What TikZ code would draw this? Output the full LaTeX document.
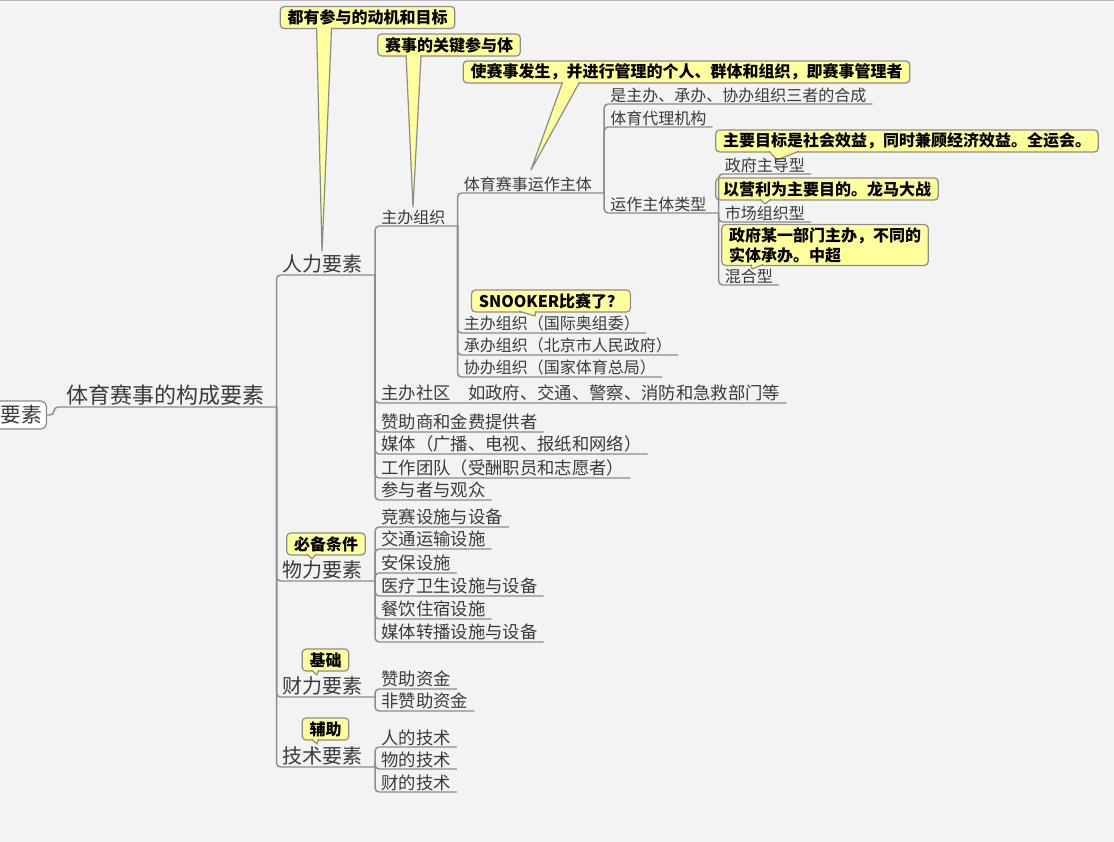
\documentclass[tikz,border=0pt]{standalone}
\usepackage{fontspec}
\setmainfont{Noto Sans CJK SC}
\usetikzlibrary{calc}

\definecolor{canvas}{HTML}{F3F3F3}
\definecolor{branchgray}{HTML}{8C8C8C}
\definecolor{topictext}{HTML}{3A3A3A}
\definecolor{noteyellow}{HTML}{FFFF9C}

% pointer of a callout: node, left and right offset of its base, tip
\newcommand{\noteptr}[4]{%
  \filldraw[notefill] ($(#1.south west)+(#2,-1.5)$) -- (#4) -- ($(#1.south west)+(#3,-1.5)$);}

\begin{document}
\begin{tikzpicture}[
    x=0.75pt, y=-0.75pt,
    topic/.style={anchor=south west, inner xsep=4.5pt, inner ysep=1pt, text=topictext, font=\fontsize{13}{15}\selectfont},
    hub/.style={topic, execute at end node={\hspace*{4.5pt}}},
    smalltopic/.style={font=\fontsize{12}{14}\selectfont},
    major/.style={font=\fontsize{15}{18}\selectfont},
    central/.style={font=\fontsize{16.5}{19}\selectfont},
    rootbox/.style={rectangle, rounded corners=4pt, draw=branchgray, line width=0.9pt, fill=white, anchor=east, text width=90pt, align=right, minimum height=21pt, inner xsep=3.5pt, text=topictext, font=\fontsize{15.5}{18}\selectfont},
    branch/.style={draw=branchgray, line width=1.1pt, rounded corners=3pt},
    note/.style={rectangle, rounded corners=3pt, draw=branchgray, line width=0.9pt, fill=noteyellow, inner xsep=5.5pt, inner ysep=2pt, minimum height=16.5pt, text=black, font=\bfseries\fontsize{12}{15}\selectfont},
    notefill/.style={fill=noteyellow, draw=branchgray, line width=0.9pt, line join=round}
]
    \useasboundingbox (0,0) rectangle (1114,842);
    \fill[canvas] (0,0) rectangle (1114,842);
    \draw[gray!55, line width=1pt] (0,0.7) -- (1114,0.7);

    % Callouts
    \node [note] (motive) at (367.5,17.5) {都有参与的动机和目标};
    \node [note] (keypart) at (449,45) {赛事的关键参与体};
    \node [note] (manager) at (686.5,72) {使赛事发生，并进行管理的个人、群体和组织，即赛事管理者};
    \node [note] (socialnote) at (907,141) {主要目标是社会效益，同时兼顾经济效益。全运会。};
    \node [note] (profitnote) at (827,189) {以营利为主要目的。龙马大战};
    \node [note, align=left] (mixnote) at (825,245) {政府某一部门主办，不同的\\实体承办。中超};
    \node [note] (snooker) at (551,301) {SNOOKER比赛了？};
    \node [note] (neednote) at (326,544) {必备条件};
    \node [note] (basenote) at (325.5,660) {基础};
    \node [note] (helpnote) at (325.5,729) {辅助};

    \coordinate (motivetip) at (322,251);
    \coordinate (keyparttip) at (413,207);
    \coordinate (managertip) at (531,170);
    \coordinate (socialtip) at (777,160);
    \coordinate (profittip) at (765,204);
    \coordinate (mixtip) at (752,269);
    \coordinate (snookertip) at (535,316);
    \coordinate (needtip) at (312,559);
    \coordinate (basetip) at (317,675);
    \coordinate (helptip) at (317,744);

    \noteptr{motive}{37}{52}{motivetip}
    \noteptr{keypart}{29}{44}{keyparttip}
    \noteptr{manager}{100}{117}{managertip}
    \noteptr{socialnote}{54}{84}{socialtip}
    \noteptr{profitnote}{45}{56}{profittip}
    \noteptr{mixnote}{30}{42}{mixtip}
    \noteptr{snooker}{48}{65}{snookertip}
    \noteptr{neednote}{21}{30}{needtip}
    \noteptr{basenote}{10}{17}{basetip}
    \noteptr{helpnote}{10}{17}{helptip}

    % Topics
    \node [rootbox] (root) at (47,415) {要素};
    \node [hub, central] (comp) at (60,407) {体育赛事的构成要素};

    \node [hub, major] (human) at (comp.south east |- 0,275) {人力要素};
    \node [hub, major] (material) at (comp.south east |- 0,581) {物力要素};
    \node [hub, major] (finance) at (comp.south east |- 0,697) {财力要素};
    \node [hub, major] (tech) at (comp.south east |- 0,767) {技术要素};

    \node [hub, smalltopic] (host) at (human.south east |- 0,226) {主办组织};
    \node [topic] (community) at (human.south east |- 0,403) {主办社区\hspace{1em}如政府、交通、警察、消防和急救部门等};
    \node [topic] (sponsor) at (human.south east |- 0,432) {赞助商和金费提供者};
    \node [topic] (media) at (human.south east |- 0,454) {媒体（广播、电视、报纸和网络）};
    \node [topic] (staff) at (human.south east |- 0,478) {工作团队（受酬职员和志愿者）};
    \node [topic] (audience) at (human.south east |- 0,500) {参与者与观众};

    \node [topic] (venue) at (material.south east |- 0,527) {竞赛设施与设备};
    \node [topic] (transport) at (material.south east |- 0,549) {交通运输设施};
    \node [topic] (security) at (material.south east |- 0,573) {安保设施};
    \node [topic] (medical) at (material.south east |- 0,596) {医疗卫生设施与设备};
    \node [topic] (catering) at (material.south east |- 0,619) {餐饮住宿设施};
    \node [topic] (broadcast) at (material.south east |- 0,642) {媒体转播设施与设备};

    \node [topic] (sponsorfund) at (finance.south east |- 0,689) {赞助资金};
    \node [topic] (otherfund) at (finance.south east |- 0,711) {非赞助资金};

    \node [topic] (peopletech) at (tech.south east |- 0,747) {人的技术};
    \node [topic] (objecttech) at (tech.south east |- 0,769) {物的技术};
    \node [topic] (moneytech) at (tech.south east |- 0,792) {财的技术};

    \node [hub, smalltopic] (operator) at (host.south east |- 0,193) {体育赛事运作主体};
    \node [topic, smalltopic] (ioc) at (host.south east |- 0,333) {主办组织（国际奥组委）};
    \node [topic, smalltopic] (beijing) at (host.south east |- 0,355) {承办组织（北京市人民政府）};
    \node [topic, smalltopic] (gsa) at (host.south east |- 0,377) {协办组织（国家体育总局）};

    \node [topic, smalltopic] (synth) at (operator.south east |- 0,104) {是主办、承办、协办组织三者的合成};
    \node [topic, smalltopic] (agency) at (operator.south east |- 0,127) {体育代理机构};
    \node [hub, smalltopic] (optype) at (operator.south east |- 0,213) {运作主体类型};

    \node [topic, smalltopic] (govled) at (optype.south east |- 0,174) {政府主导型};
    \node [topic, smalltopic] (market) at (optype.south east |- 0,222) {市场组织型};
    \node [topic, smalltopic] (mixed) at (optype.south east |- 0,285) {混合型};

    % Branches
    \draw [branch] (root.east) -- ++(7,0) |- (comp.south east);
    \draw [branch] (comp.south east) |- (human.south east);
    \draw [branch] (comp.south east) |- (material.south east);
    \draw [branch] (comp.south east) |- (finance.south east);
    \draw [branch] (comp.south east) |- (tech.south east);

    \draw [branch] (human.south east) |- (host.south east);
    \draw [branch] (human.south east) |- (community.south east);
    \draw [branch] (human.south east) |- (sponsor.south east);
    \draw [branch] (human.south east) |- (media.south east);
    \draw [branch] (human.south east) |- (staff.south east);
    \draw [branch] (human.south east) |- (audience.south east);

    \draw [branch] (material.south east) |- (venue.south east);
    \draw [branch] (material.south east) |- (transport.south east);
    \draw [branch] (material.south east) |- (security.south east);
    \draw [branch] (material.south east) |- (medical.south east);
    \draw [branch] (material.south east) |- (catering.south east);
    \draw [branch] (material.south east) |- (broadcast.south east);

    \draw [branch] (finance.south east) |- (sponsorfund.south east);
    \draw [branch] (finance.south east) |- (otherfund.south east);

    \draw [branch] (tech.south east) |- (peopletech.south east);
    \draw [branch] (tech.south east) |- (objecttech.south east);
    \draw [branch] (tech.south east) |- (moneytech.south east);

    \draw [branch] (host.south east) |- (operator.south east);
    \draw [branch] (host.south east) |- (ioc.south east);
    \draw [branch] (host.south east) |- (beijing.south east);
    \draw [branch] (host.south east) |- (gsa.south east);

    \draw [branch] (operator.south east) |- (synth.south east);
    \draw [branch] (operator.south east) |- (agency.south east);
    \draw [branch] (operator.south east) |- (optype.south east);

    \draw [branch] (optype.south east) |- (govled.south east);
    \draw [branch] (optype.south east) |- (market.south east);
    \draw [branch] (optype.south east) |- (mixed.south east);
\end{tikzpicture}
\end{document}
